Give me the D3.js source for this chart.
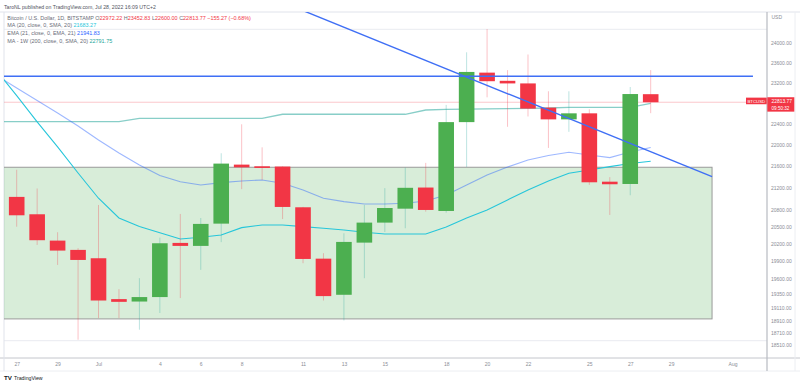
<!DOCTYPE html>
<html><head><meta charset="utf-8">
<script src="https://cdn.jsdelivr.net/npm/d3@7"></script>
<style>html,body{margin:0;padding:0;background:#fff;overflow:hidden}svg{display:block;font-family:"Liberation Sans",Arial,sans-serif}</style>
</head><body><svg id="c" width="800" height="386"></svg>
<script>
// ---- data ----
const candleDates = ["2022-06-27","2022-06-28","2022-06-29","2022-06-30","2022-07-01","2022-07-02","2022-07-03","2022-07-04","2022-07-05","2022-07-06","2022-07-07","2022-07-08","2022-07-09","2022-07-10","2022-07-11","2022-07-12","2022-07-13","2022-07-14","2022-07-15","2022-07-16","2022-07-17","2022-07-18","2022-07-19","2022-07-20","2022-07-21","2022-07-22","2022-07-23","2022-07-24","2022-07-25","2022-07-26","2022-07-27","2022-07-28"];
const openV  = [21030,20718,20254,20093,19949,19260,19220,19294,20214,20162,20552,21622,21591,21586,20843,19942,19332,20219,20570,20818,21200,20777,22427,23402,23238,23186,22708,22480,22597,21307,21265,22972.22];
const highV  = [21527,21182,20400,20123,20884,19426,19610,20306,20724,20652,21834,22385,21946,21590,20850,20036,20382,20884,21189,21567,21655,22762,23815,24297,23452,23770,23030,23030,22676,21390,23115,23452.83];
const lowV   = [20498,20179,19835,18599,18949,18949,18760,19031,19277,19751,20228,21171,21340,20633,19864,19237,18910,19610,20405,20470,20765,20747,21578,22910,22337,22536,21934,22240,21248,20706,21060,22600];
const closeV = [20700,20261,20081,19920,19237,19215,19294,20208,20162,20547,21641,21572,21560,20849,19937,19310,20231,20570,20830,21195,20795,22427,23416,23230,23186,22689,22480,22597,21296,21260,22975,22813.77];

const maDates = ["2022-06-26"].concat(candleDates);
const ma20  = [23451,22943,22430,21953,21467,21006,20653,20502,20393,20283,20313,20353,20481,20529,20529,20499,20471,20441,20400,20370,20370,20370,20493,20653,20795,20975,21156,21320,21462,21523,21584,21643,21683.27];
const ema21 = [23345,23095,22848,22604,22353,22085,21840,21616,21421,21307,21247,21289,21320,21339,21278,21156,21006,20944,20903,20903,20915,20957,21065,21247,21431,21578,21709,21793,21853,21802,21752,21858,21941.83];
const ma200w = [22435,22435,22435,22435,22435,22435,22435,22501,22501,22501,22501,22501,22501,22501,22579,22579,22579,22579,22579,22579,22579,22662,22676,22680,22685,22690,22695,22701,22715,22715,22715,22715,22791.75];

const zoneTimes = ["2022-06-10","2022-07-31"];
const zonePrices = [21573, 18935];
const trendTimes = ["2022-07-07","2022-07-31"];
const trendPrices = [25400, 21399];
const hLineTimes = ["2022-06-10","2022-08-02"];
const hLinePrice = 23330;

const yTickValues = [24000,23600,23200,22400,22000,21600,21200,20800,20500,20200,19900,19600,19350,19110,18910,18710,18510];
const xTickDates = ["2022-06-27","2022-06-29","2022-07-01","2022-07-04","2022-07-06","2022-07-08","2022-07-11","2022-07-13","2022-07-15","2022-07-18","2022-07-20","2022-07-22","2022-07-25","2022-07-27","2022-07-29","2022-08-01"];
const xTickLabels = ["27","29","Jul","4","6","8","11","13","15","18","20","22","25","27","29","Aug"];

const headerText = "TaroNL published on TradingView.com, Jul 28, 2022 16:09 UTC+2";
const legendTitle = "Bitcoin / U.S. Dollar, 1D, BITSTAMP";
const legendOHLC = [["O","22972.22"],["H","23452.83"],["L","22600.00"],["C","22813.77"]];
const legendChange = "\u2212155.27 (\u22120.68%)";
const legendStudies = [
  ["MA (20, close, 0, SMA, 20)", "21683.27", "#26c6da"],
  ["EMA (21, close, 0, EMA, 21)", "21941.83", "#2962ff"],
  ["MA - 1W (200, close, 0, SMA, 20)", "22791.75", "#26a69a"]
];

// ---- layout ----
const P = {l:4, r:767, t:12, b:358};
const parse = d3.utcParse("%Y-%m-%d");
const x = d3.scaleUtc().domain([parse("2022-06-27"), parse("2022-08-01")]).range([16.7, 732.5]);
const y = d3.scaleLog().domain([18510, 24000]).range([345.3, 43.3]);
const RED = "#f23645", GREEN = "#4caf50";

const svg = d3.select("#c");
svg.append("rect").attr("width",800).attr("height",386).attr("fill","#fff");
svg.append("defs").append("clipPath").attr("id","clip").append("rect")
  .attr("x",P.l).attr("y",P.t).attr("width",P.r-P.l).attr("height",P.b-P.t);

// frame lines
const frame = svg.append("g").attr("fill","none");
frame.append("line").attr("x1",0).attr("x2",800).attr("y1",P.t).attr("y2",P.t).attr("stroke","#e0e3eb");
frame.append("line").attr("x1",P.l).attr("x2",P.r).attr("y1",29.3).attr("y2",29.3).attr("stroke","#e9ebf0");
frame.append("line").attr("x1",P.l).attr("x2",P.r).attr("y1",340.7).attr("y2",340.7).attr("stroke","#e9ebf0");
frame.append("line").attr("x1",0).attr("x2",800).attr("y1",P.b).attr("y2",P.b).attr("stroke","#c4c6cc");
frame.append("line").attr("x1",0).attr("x2",800).attr("y1",371).attr("y2",371).attr("stroke","#eceef2");
frame.append("line").attr("x1",P.l).attr("x2",P.l).attr("y1",P.t).attr("y2",371).attr("stroke","#e0e3eb");
frame.append("line").attr("x1",P.r).attr("x2",P.r).attr("y1",P.t).attr("y2",371).attr("stroke","#b8bbc2").attr("stroke-width",1.2);
frame.append("line").attr("x1",795).attr("x2",795).attr("y1",P.t).attr("y2",371).attr("stroke","#eceef2");

const g = svg.append("g").attr("clip-path","url(#clip)");

// zone rectangle
g.append("rect")
  .attr("x", x(parse(zoneTimes[0]))).attr("y", y(zonePrices[0]))
  .attr("width", x(parse(zoneTimes[1])) - x(parse(zoneTimes[0])))
  .attr("height", y(zonePrices[1]) - y(zonePrices[0]))
  .attr("fill","rgba(76,175,80,0.22)").attr("stroke","#9a9a9a").attr("stroke-width",1);

// weekly MA
const maLine = arr => d3.line().x((d,i)=>x(parse(maDates[i]))).y(d=>y(d))(arr);
g.append("path").attr("d",maLine(ma200w)).attr("fill","none").attr("stroke","rgba(38,166,154,0.55)").attr("stroke-width",1.3);
// price line
g.append("line").attr("x1",P.l).attr("x2",P.r).attr("y1",y(closeV[closeV.length-1])).attr("y2",y(closeV[closeV.length-1]))
  .attr("stroke","rgba(242,54,69,0.28)").attr("stroke-width",1);
// EMA & MA
g.append("path").attr("d",maLine(ema21)).attr("fill","none").attr("stroke","rgba(41,98,255,0.45)").attr("stroke-width",1.1);
g.append("path").attr("d",maLine(ma20)).attr("fill","none").attr("stroke","#26c6da").attr("stroke-width",1.1);

// candles
const bw = 15.6;
const cg = g.append("g");
candleDates.forEach((ds,i)=>{
  const cx = x(parse(ds));
  const up = closeV[i] >= openV[i];
  cg.append("line").attr("x1",cx).attr("x2",cx).attr("y1",y(highV[i])).attr("y2",y(lowV[i]))
    .attr("stroke", up ? "rgba(38,166,154,0.3)" : "rgba(242,54,69,0.3)").attr("stroke-width",1);
});
candleDates.forEach((ds,i)=>{
  const cx = x(parse(ds));
  const up = closeV[i] >= openV[i];
  const y0 = y(Math.max(openV[i],closeV[i])), y1 = y(Math.min(openV[i],closeV[i]));
  cg.append("rect").attr("x",cx-bw/2).attr("y",y0).attr("width",bw).attr("height",Math.max(1.5,y1-y0))
    .attr("fill", up ? GREEN : RED);
});

// drawn lines
g.append("line").attr("x1",x(parse(trendTimes[0]))).attr("y1",y(trendPrices[0]))
  .attr("x2",x(parse(trendTimes[1]))).attr("y2",y(trendPrices[1]))
  .attr("stroke","#3f6ff5").attr("stroke-width",1.4);
g.append("line").attr("x1",x(parse(hLineTimes[0]))).attr("x2",x(parse(hLineTimes[1])))
  .attr("y1",y(hLinePrice)).attr("y2",y(hLinePrice))
  .attr("stroke","#3f6ff5").attr("stroke-width",1.4);

// y axis
const ya = svg.append("g").attr("transform",`translate(${P.r+1},0)`)
  .call(d3.axisRight(y).tickValues(yTickValues).tickFormat(d3.format(".2f")).tickSize(0).tickPadding(3));
ya.select(".domain").remove();
ya.selectAll("text").attr("font-size",5).attr("fill","#8a8d96").attr("font-family","Liberation Sans, Arial, sans-serif");
svg.append("text").attr("x",771.5).attr("y",18.5).attr("font-size",5).attr("fill","#8a8d96").text("USD");

// x axis
const xa = svg.append("g").attr("transform",`translate(0,${P.b})`)
  .call(d3.axisBottom(x).tickValues(xTickDates.map(parse)).tickFormat((d,i)=>xTickLabels[i]).tickSize(0).tickPadding(4.5));
xa.select(".domain").remove();
xa.selectAll("text").attr("font-size",5).attr("fill","#8a8d96").attr("font-family","Liberation Sans, Arial, sans-serif");

// last price labels
const ly = y(closeV[closeV.length-1]);
svg.append("rect").attr("x",746).attr("y",ly-4.6).attr("width",20.7).attr("height",6.6).attr("fill",RED);
svg.append("text").attr("x",756.3).attr("y",ly+0.6).attr("text-anchor","middle").attr("font-size",4.3).attr("fill","#fff").text("BTCUSD");
svg.append("rect").attr("x",767.3).attr("y",ly-5).attr("width",27).attr("height",14.4).attr("fill",RED);
svg.append("text").attr("x",771.5).attr("y",ly+1.2).attr("font-size",4.9).attr("fill","#fff").text(d3.format(".2f")(closeV[closeV.length-1]));
svg.append("text").attr("x",771.5).attr("y",ly+7.6).attr("font-size",4.6).attr("fill","#fff").text("09:50:32");

// header
svg.append("text").attr("x",4).attr("y",8.6).attr("font-size",5.2).attr("fill","#50535e").text(headerText);

// legend
const lg = svg.append("g").attr("font-size",5.45);
const t1 = lg.append("text").attr("x",7.3).attr("y",20.1).attr("fill","#6a6d78");
t1.append("tspan").text(legendTitle + " ");
legendOHLC.forEach(([k,v])=>{
  t1.append("tspan").attr("fill","#6a6d78").text(k);
  t1.append("tspan").attr("fill",RED).text(v+" ");
});
t1.append("tspan").attr("fill",RED).text(legendChange);
const rows = [27.0, 35.2, 42.6];
legendStudies.forEach(([name,val,col],i)=>{
  const t = lg.append("text").attr("x",7.3).attr("y",rows[i]).attr("fill","#6a6d78");
  t.append("tspan").text(name+" ");
  t.append("tspan").attr("fill",col).text(val);
});

// TradingView mark
const tv = svg.append("g");
tv.append("text").attr("x",4).attr("y",380).attr("font-size",6.2).attr("font-weight","bold").attr("fill","#131722").text("TV");
tv.append("text").attr("x",14).attr("y",379.8).attr("font-size",5.2).attr("fill","#131722").text("TradingView");
</script>
</body></html>
